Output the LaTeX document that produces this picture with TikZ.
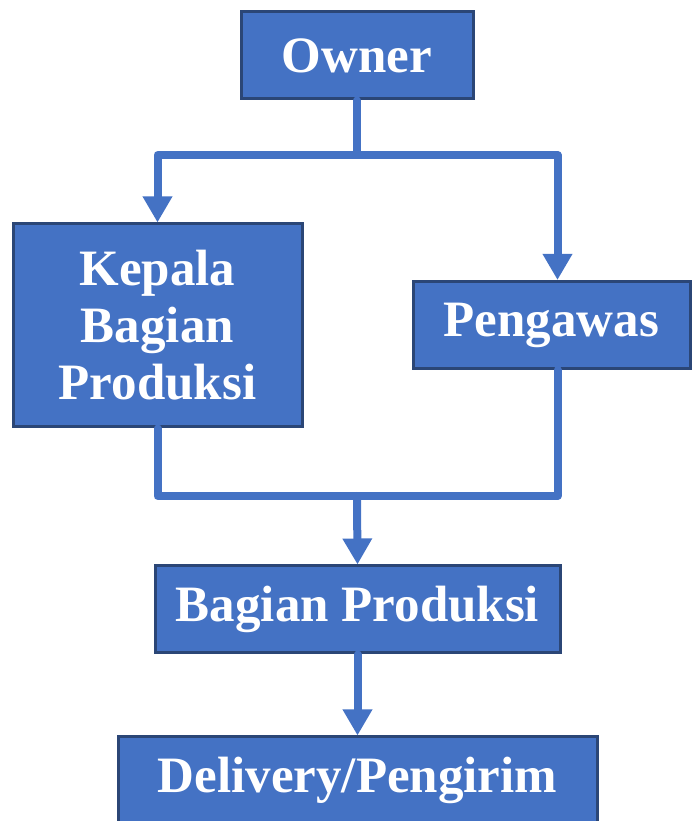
\documentclass[tikz,border=0pt]{standalone}
\usepackage{fontspec}
\setmainfont{Liberation Serif}
\usepackage{tikz}
\usetikzlibrary{arrows.meta}

\definecolor{boxblue}{HTML}{4472C4}
\definecolor{boxedge}{HTML}{2B4676}

\begin{document}
\begin{tikzpicture}[x=0.5pt, y=0.5pt]
    \tikzstyle{unit}=[
        draw = boxedge,
        line width = 1.5pt,
        fill = boxblue,
        text = white,
        font = \bfseries\fontsize{25.5pt}{28.5pt}\selectfont,
        align = center,
        inner sep = 0pt,
        minimum height = 43.5pt,
        rectangle
    ]
    \tikzstyle{line}=[
        draw = boxblue,
        line width = 4pt,
        line join = round,
        line cap = round
    ]
    \tikzstyle{link}=[
        line,
        -{Triangle[width=14pt, length=13pt]}
    ]

    \useasboundingbox (0,0) rectangle (692,821);

	\node[unit, minimum width=116pt]   (owner)    at (357, 765.5)   {Owner};
	\node[unit, minimum width=144.5pt, minimum height=101.5pt] (kepala) at (157.5, 495.5) {Kepala\\Bagian\\Produksi};
	\node[unit, minimum width=138.5pt] (pengawas) at (551.5, 496)   {Pengawas};
	\node[unit, minimum width=202.5pt] (bagian)   at (357.5, 211.5) {Bagian Produksi};
	\node[unit, minimum width=239.5pt] (delivery) at (357.5, 40.5)  {Delivery/Pengirim};

	\coordinate (split) at (357, 666);
	\coordinate (merge) at (357, 325);

	\draw[line] (owner.south) -- (split);
	\draw[link] (split) -| (kepala.north);
	\draw[link] (split) -| ([xshift=3pt]pengawas.north);

	\draw[line] (kepala.south) |- (merge) -| ([xshift=3pt]pengawas.south);
	\draw[link] (merge) -- (bagian.north);
	\draw[link] (bagian.south) -- (delivery.north);

\end{tikzpicture}
\end{document}
